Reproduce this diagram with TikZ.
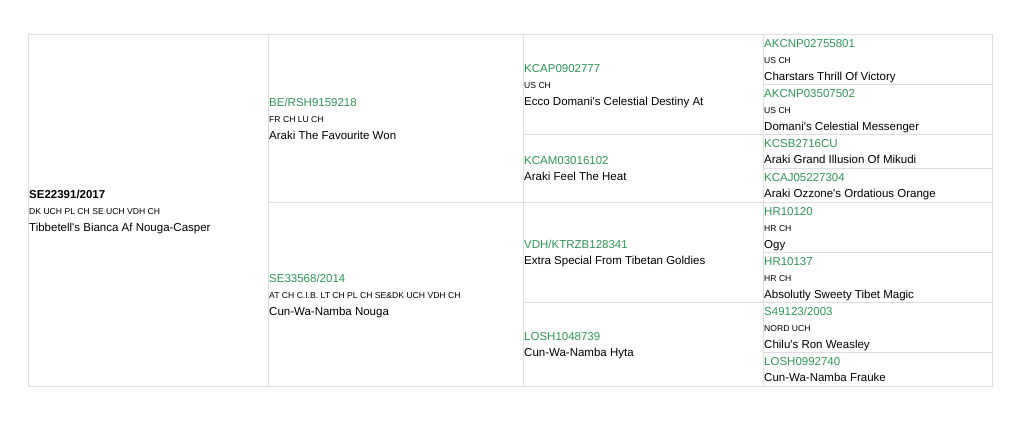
\documentclass[tikz,border=0pt]{standalone}
\usepackage{fontspec}
\setmainfont{Liberation Sans}
\usetikzlibrary{positioning}
\definecolor{reggreen}{RGB}{46,150,84}
\definecolor{gridgray}{RGB}{222,222,222}
\begin{document}
\begin{tikzpicture}[x=1pt,y=-1pt,
	cell/.style={draw=gridgray, 
				line width=1pt, 
				rectangle, 
				anchor=north west, 
				inner sep=0pt},
	reg/.style={text=reggreen, font=\fontsize{11.5}{13}\selectfont, inner sep=0pt},
	ttl/.style={font=\fontsize{8.6}{10}\selectfont, inner sep=0pt},
	nm/.style={font=\fontsize{11.5}{13}\selectfont, inner sep=0pt}]
	\useasboundingbox (0,0) rectangle (1022,423);
	% cells of the table
	\node[cell,minimum width=240pt,minimum height=352pt] (dog) at (28,34) {};
	\node[cell,minimum width=255pt,minimum height=168pt] (s) at (268,34) {};
	\node[cell,minimum width=255pt,minimum height=184pt] (d) at (268,202) {};
	\node[cell,minimum width=240pt,minimum height=100pt] (ss) at (523,34) {};
	\node[cell,minimum width=240pt,minimum height=68pt] (sd) at (523,134) {};
	\node[cell,minimum width=240pt,minimum height=100pt] (ds) at (523,202) {};
	\node[cell,minimum width=240pt,minimum height=84pt] (dd) at (523,302) {};
	\node[cell,minimum width=229pt,minimum height=50pt] (sss) at (763,34) {};
	\node[cell,minimum width=229pt,minimum height=50pt] (ssd) at (763,84) {};
	\node[cell,minimum width=229pt,minimum height=34pt] (sds) at (763,134) {};
	\node[cell,minimum width=229pt,minimum height=34pt] (sdd) at (763,168) {};
	\node[cell,minimum width=229pt,minimum height=50pt] (dss) at (763,202) {};
	\node[cell,minimum width=229pt,minimum height=50pt] (dsd) at (763,252) {};
	\node[cell,minimum width=229pt,minimum height=50pt] (dds) at (763,302) {};
	\node[cell,minimum width=229pt,minimum height=34pt] (ddd) at (763,352) {};
	% the dog
	\node[reg,text=black,anchor=base west] (dogreg) at ([xshift=1pt,yshift=12.5pt]dog.west) {\bfseries SE22391/2017};
	\node[ttl,below=16.5pt of dogreg.base west,anchor=base west] (dogttl) {DK UCH PL CH SE UCH VDH CH};
	\node[nm,below=16.5pt of dogttl.base west,anchor=base west] (dognm) {Tibbetell\textquotesingle s Bianca Af Nouga-Casper};
	% parents
	\node[reg,anchor=base west] (sreg) at ([xshift=1pt,yshift=12.5pt]s.west) {BE/RSH9159218};
	\node[ttl,below=16.5pt of sreg.base west,anchor=base west] (sttl) {FR CH LU CH};
	\node[nm,below=16.5pt of sttl.base west,anchor=base west] (snm) {Araki The Favourite Won};
	\node[reg,anchor=base west] (dreg) at ([xshift=1pt,yshift=12.5pt]d.west) {SE33568/2014};
	\node[ttl,below=16.5pt of dreg.base west,anchor=base west] (dttl) {AT CH C.I.B. LT CH PL CH SE\&DK UCH VDH CH};
	\node[nm,below=16.5pt of dttl.base west,anchor=base west] (dnm) {Cun-Wa-Namba Nouga};
	% grandparents
	\node[reg,anchor=base west] (ssreg) at ([xshift=1pt,yshift=12.5pt]ss.west) {KCAP0902777};
	\node[ttl,below=16.5pt of ssreg.base west,anchor=base west] (ssttl) {US CH};
	\node[nm,below=16.5pt of ssttl.base west,anchor=base west] (ssnm) {Ecco Domani\textquotesingle s Celestial Destiny At};
	\node[reg,anchor=base west] (sdreg) at ([xshift=1pt,yshift=4.2pt]sd.west) {KCAM03016102};
	\node[nm,below=16.5pt of sdreg.base west,anchor=base west] (sdnm) {Araki Feel The Heat};
	\node[reg,anchor=base west] (dsreg) at ([xshift=1pt,yshift=4.2pt]ds.west) {VDH/KTRZB128341};
	\node[nm,below=16.5pt of dsreg.base west,anchor=base west] (dsnm) {Extra Special From Tibetan Goldies};
	\node[reg,anchor=base west] (ddreg) at ([xshift=1pt,yshift=4.2pt]dd.west) {LOSH1048739};
	\node[nm,below=16.5pt of ddreg.base west,anchor=base west] (ddnm) {Cun-Wa-Namba Hyta};
	% great-grandparents
	\node[reg,anchor=base west] (sssreg) at ([xshift=1pt,yshift=12.5pt]sss.west) {AKCNP02755801};
	\node[ttl,below=16.5pt of sssreg.base west,anchor=base west] (sssttl) {US CH};
	\node[nm,below=16.5pt of sssttl.base west,anchor=base west] (sssnm) {Charstars Thrill Of Victory};
	\node[reg,anchor=base west] (ssdreg) at ([xshift=1pt,yshift=12.5pt]ssd.west) {AKCNP03507502};
	\node[ttl,below=16.5pt of ssdreg.base west,anchor=base west] (ssdttl) {US CH};
	\node[nm,below=16.5pt of ssdttl.base west,anchor=base west] (ssdnm) {Domani\textquotesingle s Celestial Messenger};
	\node[reg,anchor=base west] (sdsreg) at ([xshift=1pt,yshift=4.2pt]sds.west) {KCSB2716CU};
	\node[nm,below=16.5pt of sdsreg.base west,anchor=base west] (sdsnm) {Araki Grand Illusion Of Mikudi};
	\node[reg,anchor=base west] (sddreg) at ([xshift=1pt,yshift=4.2pt]sdd.west) {KCAJ05227304};
	\node[nm,below=16.5pt of sddreg.base west,anchor=base west] (sddnm) {Araki Ozzone\textquotesingle s Ordatious Orange};
	\node[reg,anchor=base west] (dssreg) at ([xshift=1pt,yshift=12.5pt]dss.west) {HR10120};
	\node[ttl,below=16.5pt of dssreg.base west,anchor=base west] (dssttl) {HR CH};
	\node[nm,below=16.5pt of dssttl.base west,anchor=base west] (dssnm) {Ogy};
	\node[reg,anchor=base west] (dsdreg) at ([xshift=1pt,yshift=12.5pt]dsd.west) {HR10137};
	\node[ttl,below=16.5pt of dsdreg.base west,anchor=base west] (dsdttl) {HR CH};
	\node[nm,below=16.5pt of dsdttl.base west,anchor=base west] (dsdnm) {Absolutly Sweety Tibet Magic};
	\node[reg,anchor=base west] (ddsreg) at ([xshift=1pt,yshift=12.5pt]dds.west) {S49123/2003};
	\node[ttl,below=16.5pt of ddsreg.base west,anchor=base west] (ddsttl) {NORD UCH};
	\node[nm,below=16.5pt of ddsttl.base west,anchor=base west] (ddsnm) {Chilu\textquotesingle s Ron Weasley};
	\node[reg,anchor=base west] (dddreg) at ([xshift=1pt,yshift=4.2pt]ddd.west) {LOSH0992740};
	\node[nm,below=16.5pt of dddreg.base west,anchor=base west] (dddnm) {Cun-Wa-Namba Frauke};
\end{tikzpicture}
\end{document}
